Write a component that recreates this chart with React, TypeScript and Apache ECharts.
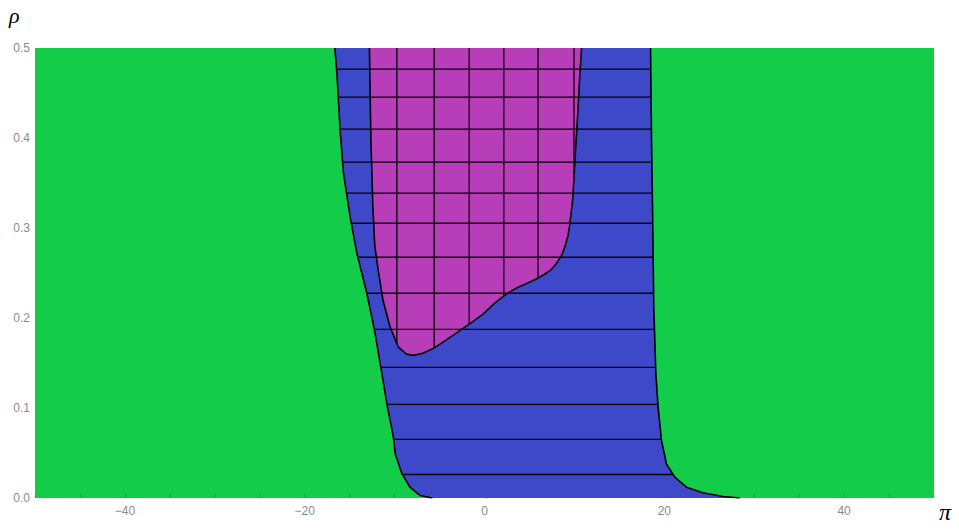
import React, { useEffect, useRef } from "react";
import * as echarts from "echarts";

// Boundary of the blue region (left side, top to bottom): [pi, rho]
const leftBlue: [number, number][] = [
  [-16.65, 0.5], [-16.42, 0.4722], [-16.06, 0.4088], [-15.69, 0.361], [-14.94, 0.312],
  [-14.2, 0.272], [-13.09, 0.2275], [-12.17, 0.183], [-11.42, 0.1385], [-10.83, 0.1029],
  [-10.13, 0.0673], [-9.94, 0.0495], [-9.2, 0.0273], [-8.28, 0.0117], [-7.17, 0.0028], [-5.8, 0],
];
// Boundary of the blue region (right side, top to bottom)
const rightBlue: [number, number][] = [
  [18.47, 0.5], [18.58, 0.3977], [18.69, 0.3235], [18.83, 0.2122], [19.06, 0.1385],
  [19.31, 0.101], [19.69, 0.064], [20.24, 0.038], [21.17, 0.0231], [22.47, 0.012],
  [24.31, 0.0058], [26.53, 0.0017], [28.4, 0],
];
// Boundary of the magenta region (from top-left, down, across, up to top-right)
const magentaLoop: [number, number][] = [
  [-12.8, 0.5], [-12.64, 0.4], [-12.42, 0.3235], [-12.2, 0.28], [-11.85, 0.255],
  [-11.3, 0.22], [-10.5, 0.19], [-9.6, 0.168], [-8.7, 0.16], [-7.9, 0.1585],
  [-6.8, 0.161], [-5.7, 0.166], [-4.2, 0.176], [-2.7, 0.1863], [-1.3, 0.196],
  [-0.1, 0.2049], [1.2, 0.217], [2.5, 0.2271], [3.6, 0.2335], [4.7, 0.2383],
  [5.7, 0.243], [6.5, 0.2475], [7.4, 0.2535], [8.0, 0.2605], [8.6, 0.27],
  [8.94, 0.279], [9.3, 0.292], [9.5, 0.305], [9.8, 0.331], [9.95, 0.355],
  [10.15, 0.39], [10.42, 0.4347], [10.6, 0.47], [10.8, 0.5],
];
// Mesh lines
const meshRho = [0.0261, 0.0651, 0.104, 0.1452, 0.1874, 0.2275, 0.2675, 0.3053, 0.3387, 0.3732, 0.4099, 0.4455, 0.4766];
const meshPi = [-9.75, -5.6, -1.7, 2.15, 5.95, 9.95];
const xLabels = [-40, -20, 0, 20, 40];
const yLabels = [0, 0.1, 0.2, 0.3, 0.4, 0.5];

const GREEN = "#13cc49";
const BLUE = "#3d49c9";
const MAGENTA = "#b83db8";

function xAtRho(curve: [number, number][], rho: number): number {
  for (let i = 0; i < curve.length - 1; i++) {
    const [x1, y1] = curve[i];
    const [x2, y2] = curve[i + 1];
    if ((rho - y1) * (rho - y2) <= 0 && y1 !== y2) {
      return x1 + ((rho - y1) / (y2 - y1)) * (x2 - x1);
    }
  }
  return curve[curve.length - 1][0];
}

function lowestRhoAtX(loop: [number, number][], x: number): number {
  let best = Infinity;
  for (let i = 0; i < loop.length - 1; i++) {
    const [x1, y1] = loop[i];
    const [x2, y2] = loop[i + 1];
    if ((x - x1) * (x - x2) <= 0 && x1 !== x2) {
      const y = y1 + ((x - x1) / (x2 - x1)) * (y2 - y1);
      if (y < best) best = y;
    }
  }
  return best;
}

const polySeries = (pts: [number, number][], color: string) => ({
  type: "custom",
  coordinateSystem: "cartesian2d",
  data: [[0, 0]],
  silent: true,
  renderItem: (_p: any, api: any) => ({
    type: "polygon",
    shape: { points: pts.map((p) => api.coord(p)) },
    style: { fill: color, stroke: "none" },
  }),
});

const lineSeries = (pts: [number, number][], width: number) => ({
  type: "line",
  data: pts,
  showSymbol: false,
  silent: true,
  lineStyle: { color: "#000", width },
  z: 3,
});

export default function App() {
  const ref = useRef<HTMLDivElement>(null);
  useEffect(() => {
    if (!ref.current) return;
    const chart = echarts.init(ref.current, undefined, { renderer: "svg" });
    const bluePoly: [number, number][] = [...leftBlue, ...[...rightBlue].reverse()];
    const series: any[] = [polySeries(bluePoly, BLUE), polySeries(magentaLoop, MAGENTA)];
    meshRho.forEach((r) => {
      series.push(lineSeries([[xAtRho(leftBlue, r), r], [xAtRho(rightBlue, r), r]], 1.3));
    });
    meshPi.forEach((x) => {
      series.push(lineSeries([[x, lowestRhoAtX(magentaLoop, x)], [x, 0.5]], 1.3));
    });
    series.push(lineSeries(leftBlue, 1.6));
    series.push(lineSeries(rightBlue, 1.6));
    series.push(lineSeries(magentaLoop, 1.6));

    const labelStyle = {
      color: "#8a8a8a", fontSize: 12, fontFamily: "Liberation Sans, Arial, sans-serif",
    };

    chart.setOption({
      animation: false,
      grid: {
        left: 35, right: 25, top: 48, bottom: 31,
        show: true, backgroundColor: GREEN, borderWidth: 0,
      },
      xAxis: {
        type: "value", min: -50, max: 50, interval: 5,
        axisLine: { show: false },
        splitLine: { show: false },
        axisTick: { show: true, inside: true, length: 4, lineStyle: { color: "rgba(0,0,0,0.15)" } },
        axisLabel: {
          ...labelStyle, margin: 7,
          formatter: (v: number) => (xLabels.includes(v) ? String(v).replace("-", "\u2212") : ""),
        },
      },
      yAxis: {
        type: "value", min: 0, max: 0.5, interval: 0.1,
        axisLine: { show: false },
        splitLine: { show: false },
        axisTick: { show: true, inside: true, length: 4, lineStyle: { color: "rgba(0,0,0,0.15)" } },
        minorTick: { show: true, splitNumber: 5, length: 2, lineStyle: { color: "rgba(0,0,0,0.12)" } },
        axisLabel: {
          ...labelStyle, margin: 5,
          formatter: (v: number) => (yLabels.some((t) => Math.abs(t - v) < 1e-9) ? v.toFixed(1) : ""),
        },
      },
      graphic: [
        { type: "text", left: 9, top: 4, style: { text: "ρ", font: "italic 22px 'Liberation Serif', 'Times New Roman', serif", fill: "#000" } },
        { type: "text", left: 939, top: 500, style: { text: "π", font: "italic 24px 'Liberation Serif', 'Times New Roman', serif", fill: "#000" } },
      ],
      series,
    });
    return () => chart.dispose();
  }, []);
  return <div ref={ref} style={{ position: "fixed", left: 0, top: 0, width: 959, height: 529, background: "#fff" }} />;
}
